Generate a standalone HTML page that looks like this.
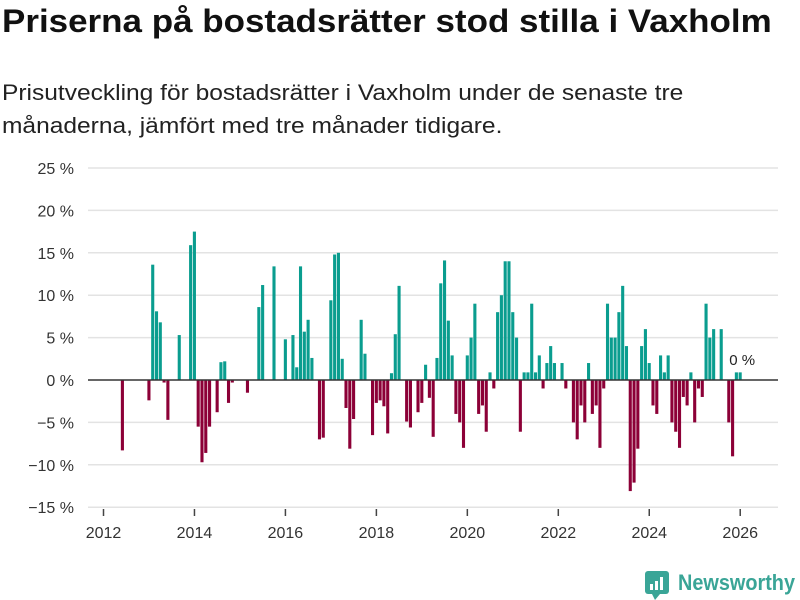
<!DOCTYPE html>
<html><head><meta charset="utf-8"><style>
body{margin:0;background:#fff;font-family:"Liberation Sans",sans-serif;}
#wrap{position:relative;width:800px;height:600px;overflow:hidden;}
h1{position:absolute;left:2px;top:3px;margin:0;font-size:32px;font-weight:bold;color:#111;white-space:nowrap;transform:scaleX(1.093);transform-origin:0 0;}
.sub{position:absolute;left:2px;top:76px;margin:0;font-size:22px;line-height:33px;color:#222;white-space:nowrap;transform:scaleX(1.115);transform-origin:0 0;}
</style></head><body>
<div id="wrap">
<h1>Priserna på bostadsrätter stod stilla i Vaxholm</h1>
<p class="sub">Prisutveckling för bostadsrätter i Vaxholm under de senaste tre<br>månaderna, jämfört med tre månader tidigare.</p>
<svg id="chart" width="800" height="600" style="position:absolute;left:0;top:0"></svg>
</div>
<script>
const monthIndex=[5,12,13,14,15,16,17,20,23,24,25,26,27,28,30,31,32,33,34,38,41,42,45,48,50,51,52,53,54,55,57,58,60,61,62,63,64,65,66,68,69,71,72,73,74,75,76,77,78,80,81,83,84,85,86,87,88,89,90,91,92,93,94,95,96,97,98,99,100,101,102,103,104,105,106,107,108,109,110,111,112,113,114,115,116,117,118,119,121,122,124,125,126,127,128,129,130,131,132,133,134,135,136,137,138,139,140,141,142,143,144,145,146,147,148,149,150,151,152,153,154,155,156,157,158,159,160,161,163,165,166,167,168];
const values=[-8.3,-2.4,13.6,8.1,6.8,-0.3,-4.7,5.3,15.9,17.5,-5.5,-9.7,-8.6,-5.5,-3.8,2.1,2.2,-2.7,-0.3,-1.5,8.6,11.2,13.4,4.8,5.3,1.5,13.4,5.7,7.1,2.6,-7.0,-6.8,9.4,14.8,15.0,2.5,-3.3,-8.1,-4.6,7.1,3.1,-6.5,-2.7,-2.4,-3.1,-6.3,0.8,5.4,11.1,-4.9,-5.6,-3.8,-2.7,1.8,-2.1,-6.7,2.6,11.4,14.1,7.0,2.9,-4.0,-5.0,-8.0,2.9,5.0,9.0,-4.0,-3.0,-6.1,0.9,-1.0,8.0,10.0,14.0,14.0,8.0,5.0,-6.1,0.9,0.9,9.0,0.9,2.9,-1.0,2.0,4.0,2.0,2.0,-1.0,-5.0,-7.0,-3.0,-5.0,2.0,-4.0,-3.0,-8.0,-1.0,9.0,5.0,5.0,8.0,11.1,4.0,-13.1,-12.1,-8.1,4.0,6.0,2.0,-3.0,-4.0,2.9,0.9,2.9,-5.0,-6.1,-8.0,-2.0,-3.0,0.9,-5.0,-1.0,-2.0,9.0,5.0,6.0,6.0,-5.0,-9.0,0.9,0.9];
const yTicks=[25,20,15,10,5,0,-5,-10,-15];
const xTicks=[2012,2014,2016,2018,2020,2022,2024,2026];
const lastLabel="0 %";
const svg=document.getElementById('chart');
const NS='http://www.w3.org/2000/svg';
const X0=103.5,PM=3.79;
const xm=m=>X0+m*PM;
const xy=yr=>X0+(yr-2012)*12*PM;
const y=v=>380-v*8.48;
function mk(t,a){const e=document.createElementNS(NS,t);for(const k in a)e.setAttribute(k,a[k]);svg.appendChild(e);return e;}
yTicks.forEach(t=>{
  if(t!==0){const g=mk('line',{x1:88,x2:778,y1:y(t),y2:y(t),stroke:'#e3e3e3','stroke-width':1.5});
  
  }
  const l=mk('text',{x:74,y:y(t)+6,'text-anchor':'end','font-size':16,fill:'#333','font-family':'Liberation Sans, sans-serif'});
  l.textContent=(t<0?'−'+(-t):t)+' %';
  
  
});
xTicks.forEach(t=>{
  const tk=mk('line',{x1:xy(t),x2:xy(t),y1:509,y2:516,stroke:'#444','stroke-width':1.5});
  
  
  const l=mk('text',{x:xy(t),y:538,'text-anchor':'middle','font-size':16,fill:'#333','font-family':'Liberation Sans, sans-serif'});
  l.textContent=t;
  
  
});
monthIndex.forEach((m,i)=>{
  const v=values[i];
  const b=mk('rect',{x:xm(m)-1.6,width:3.1,y:Math.min(y(v),y(0)),height:Math.abs(y(v)-y(0)),fill:v>=0?'#0a9d8f':'#8c0037'});
  
  
});
const z=mk('line',{x1:88,x2:778,y1:380,y2:380,stroke:'#333','stroke-width':1.5});


const lm=monthIndex[monthIndex.length-1];
const ll=mk('text',{x:xm(lm)+2,y:365,'text-anchor':'middle','font-size':15,fill:'#222','font-family':'Liberation Sans, sans-serif'});
ll.textContent=lastLabel;


const lg=document.createElementNS(NS,'g');


svg.appendChild(lg);
lg.innerHTML='<rect x="645" y="571" width="24" height="23" rx="3" fill="#3aa597"/><polygon points="652,594 660,594 655,600" fill="#3aa597"/><rect x="650" y="584" width="3" height="6" fill="#fff"/><rect x="655" y="581" width="3" height="9" fill="#fff"/><rect x="660" y="577" width="3" height="13" fill="#fff"/><text x="678" y="590" font-size="22" font-weight="bold" fill="#3aa597" font-family="Liberation Sans, sans-serif" textLength="117" lengthAdjust="spacingAndGlyphs">Newsworthy</text>';
</script>
</body></html>
